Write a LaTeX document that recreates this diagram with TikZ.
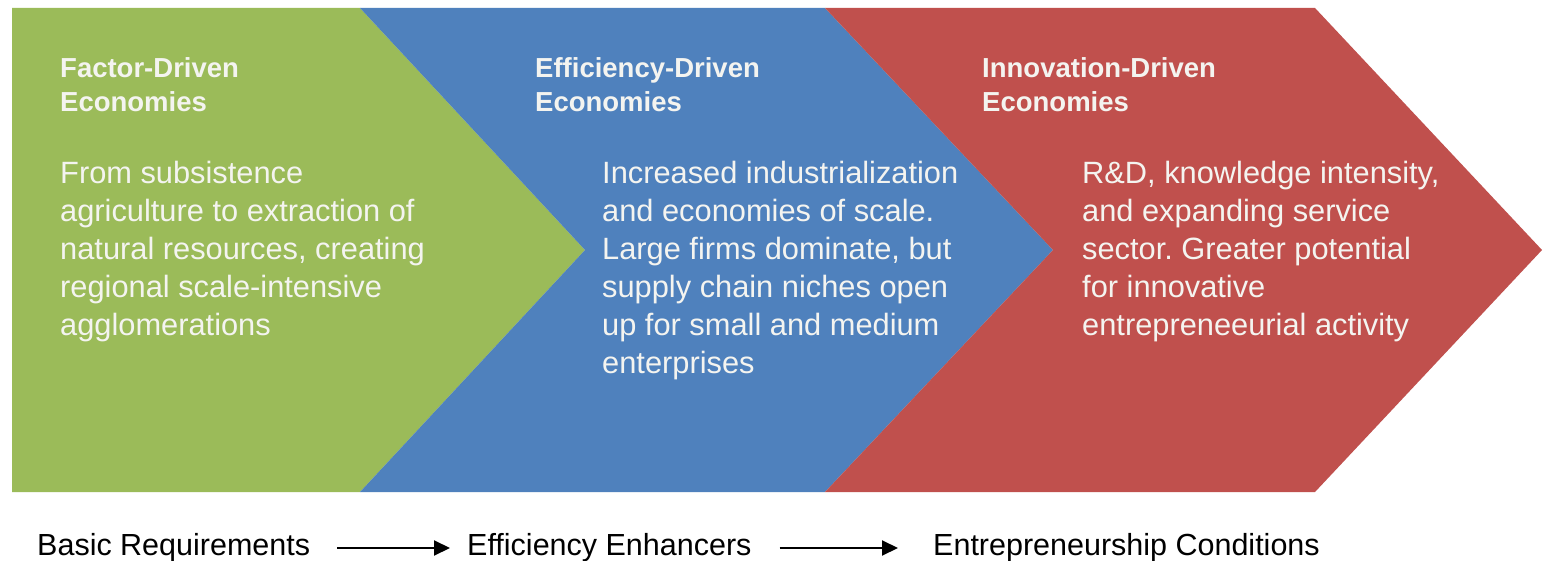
\documentclass[tikz,border=0pt]{standalone}
\usepackage{fontspec}
\setmainfont{Liberation Sans}
\frenchspacing
\usetikzlibrary{arrows.meta}
\definecolor{cgreen}{HTML}{9BBB59}
\definecolor{cblue}{HTML}{4F81BD}
\definecolor{cred}{HTML}{C0504D}
\definecolor{ctext}{HTML}{F4F4F0}
\tikzset{
  title/.style={anchor=north west, inner sep=0pt, align=left, text=ctext,
    font=\fontsize{27.5}{34}\selectfont\bfseries},
  body/.style={anchor=north west, inner sep=0pt, align=left, text=ctext,
    font=\fontsize{30.8}{38}\selectfont},
  stage/.style={anchor=west, inner sep=0pt, font=\fontsize{30.5}{34}\selectfont, text=black},
  flow/.style={line width=2pt, -{Triangle[length=16pt,width=15pt]}}
}
\begin{document}
\begin{tikzpicture}[x=1pt,y=-1pt]
\useasboundingbox (0,0) rectangle (1544,561);
\fill[white] (0,0) rectangle (1544,561);
% chevrons
\fill[cgreen] (12,8) -- (360,8) -- (585,250) -- (360,492) -- (12,492) -- cycle;
\fill[cblue] (360,8) -- (825,8) -- (1053,250) -- (825,492) -- (360,492) -- (585,250) -- cycle;
\fill[cred] (825,8) -- (1315,8) -- (1542,250) -- (1315,492) -- (825,492) -- (1053,250) -- cycle;
% titles
\node[title] (t1) at (60,57) {Factor-Driven\\Economies};
\node[title] (t2) at (535,57) {Efficiency-Driven\\Economies};
\node[title] (t3) at (982,57) {Innovation-Driven\\Economies};
% bodies
\node[body] (d1) at (60,161) {From subsistence\\agriculture to extraction of\\natural resources, creating\\regional scale-intensive\\agglomerations};
\node[body] (d2) at (602,161) {Increased industrialization\\and economies of scale.\\Large firms dominate, but\\supply chain niches open\\up for small and medium\\enterprises};
\node[body] (d3) at (1082,161) {R\&D, knowledge intensity,\\and expanding service\\sector. Greater potential\\for innovative\\entrepreneeurial activity};
% bottom flow
\node[stage] (b1) at (37,548) {Basic Requirements};
\node[stage] (b2) at (467,548) {Efficiency Enhancers};
\node[stage] (b3) at (933,548) {Entrepreneurship Conditions};
\draw[flow] ([xshift=27pt]b1.east) -- ([xshift=-17pt]b2.west);
\draw[flow] ([xshift=28pt]b2.east) -- ([xshift=-35pt]b3.west);
\end{tikzpicture}
\end{document}
